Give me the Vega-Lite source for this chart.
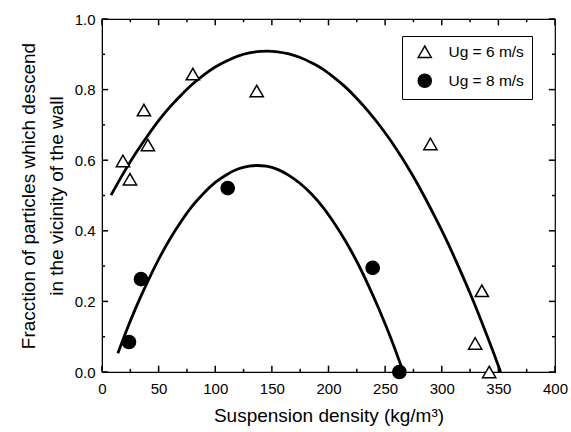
{
  "$schema": "https://vega.github.io/schema/vega-lite/v6.json",
  "width": 453,
  "height": 353,
  "autosize": {"type": "none"},
  "padding": {"left": 102, "top": 19, "right": 16, "bottom": 60},
  "background": "white",
  "config": {
    "font": "Liberation Sans",
    "view": {"stroke": "black", "strokeWidth": 1.2},
    "axis": {
      "grid": false,
      "domainColor": "black",
      "tickColor": "black",
      "labelColor": "black",
      "labelFont": "Liberation Sans",
      "labelFontSize": 15,
      "titleFont": "Liberation Sans",
      "titleFontSize": 19,
      "titleFontWeight": "normal",
      "titleColor": "black"
    }
  },
  "datasets": {
    "curves": [
      {"series": "Ug = 6 m/s", "x": 8, "y": 0.501},
      {"series": "Ug = 6 m/s", "x": 20, "y": 0.569},
      {"series": "Ug = 6 m/s", "x": 30, "y": 0.621},
      {"series": "Ug = 6 m/s", "x": 40, "y": 0.668},
      {"series": "Ug = 6 m/s", "x": 50, "y": 0.712},
      {"series": "Ug = 6 m/s", "x": 60, "y": 0.751},
      {"series": "Ug = 6 m/s", "x": 70, "y": 0.785},
      {"series": "Ug = 6 m/s", "x": 80, "y": 0.816},
      {"series": "Ug = 6 m/s", "x": 90, "y": 0.842},
      {"series": "Ug = 6 m/s", "x": 100, "y": 0.864},
      {"series": "Ug = 6 m/s", "x": 110, "y": 0.881},
      {"series": "Ug = 6 m/s", "x": 120, "y": 0.895},
      {"series": "Ug = 6 m/s", "x": 130, "y": 0.904},
      {"series": "Ug = 6 m/s", "x": 140, "y": 0.908},
      {"series": "Ug = 6 m/s", "x": 146, "y": 0.909},
      {"series": "Ug = 6 m/s", "x": 155, "y": 0.907},
      {"series": "Ug = 6 m/s", "x": 165, "y": 0.901},
      {"series": "Ug = 6 m/s", "x": 175, "y": 0.891},
      {"series": "Ug = 6 m/s", "x": 185, "y": 0.876},
      {"series": "Ug = 6 m/s", "x": 195, "y": 0.858},
      {"series": "Ug = 6 m/s", "x": 205, "y": 0.834},
      {"series": "Ug = 6 m/s", "x": 215, "y": 0.807},
      {"series": "Ug = 6 m/s", "x": 225, "y": 0.775},
      {"series": "Ug = 6 m/s", "x": 235, "y": 0.739},
      {"series": "Ug = 6 m/s", "x": 245, "y": 0.699},
      {"series": "Ug = 6 m/s", "x": 255, "y": 0.655},
      {"series": "Ug = 6 m/s", "x": 265, "y": 0.606},
      {"series": "Ug = 6 m/s", "x": 275, "y": 0.553},
      {"series": "Ug = 6 m/s", "x": 285, "y": 0.495},
      {"series": "Ug = 6 m/s", "x": 295, "y": 0.433},
      {"series": "Ug = 6 m/s", "x": 305, "y": 0.368},
      {"series": "Ug = 6 m/s", "x": 315, "y": 0.297},
      {"series": "Ug = 6 m/s", "x": 325, "y": 0.223},
      {"series": "Ug = 6 m/s", "x": 335, "y": 0.144},
      {"series": "Ug = 6 m/s", "x": 345, "y": 0.061},
      {"series": "Ug = 6 m/s", "x": 352, "y": 0.0},
      {"series": "Ug = 8 m/s", "x": 14, "y": 0.053},
      {"series": "Ug = 8 m/s", "x": 20, "y": 0.104},
      {"series": "Ug = 8 m/s", "x": 30, "y": 0.183},
      {"series": "Ug = 8 m/s", "x": 40, "y": 0.254},
      {"series": "Ug = 8 m/s", "x": 50, "y": 0.319},
      {"series": "Ug = 8 m/s", "x": 60, "y": 0.377},
      {"series": "Ug = 8 m/s", "x": 70, "y": 0.427},
      {"series": "Ug = 8 m/s", "x": 80, "y": 0.471},
      {"series": "Ug = 8 m/s", "x": 90, "y": 0.507},
      {"series": "Ug = 8 m/s", "x": 100, "y": 0.537},
      {"series": "Ug = 8 m/s", "x": 110, "y": 0.559},
      {"series": "Ug = 8 m/s", "x": 120, "y": 0.575},
      {"series": "Ug = 8 m/s", "x": 130, "y": 0.583},
      {"series": "Ug = 8 m/s", "x": 137, "y": 0.585},
      {"series": "Ug = 8 m/s", "x": 145, "y": 0.583},
      {"series": "Ug = 8 m/s", "x": 155, "y": 0.574},
      {"series": "Ug = 8 m/s", "x": 165, "y": 0.557},
      {"series": "Ug = 8 m/s", "x": 175, "y": 0.534},
      {"series": "Ug = 8 m/s", "x": 185, "y": 0.504},
      {"series": "Ug = 8 m/s", "x": 195, "y": 0.467},
      {"series": "Ug = 8 m/s", "x": 205, "y": 0.422},
      {"series": "Ug = 8 m/s", "x": 215, "y": 0.371},
      {"series": "Ug = 8 m/s", "x": 225, "y": 0.313},
      {"series": "Ug = 8 m/s", "x": 235, "y": 0.247},
      {"series": "Ug = 8 m/s", "x": 245, "y": 0.175},
      {"series": "Ug = 8 m/s", "x": 255, "y": 0.096},
      {"series": "Ug = 8 m/s", "x": 266, "y": 0.0}
    ],
    "points": [
      {"series": "Ug = 6 m/s", "x": 18.5, "y": 0.598},
      {"series": "Ug = 6 m/s", "x": 24.7, "y": 0.546},
      {"series": "Ug = 6 m/s", "x": 37, "y": 0.742},
      {"series": "Ug = 6 m/s", "x": 40.5, "y": 0.643},
      {"series": "Ug = 6 m/s", "x": 80.2, "y": 0.844},
      {"series": "Ug = 6 m/s", "x": 136.6, "y": 0.796},
      {"series": "Ug = 6 m/s", "x": 290, "y": 0.646},
      {"series": "Ug = 6 m/s", "x": 335.4, "y": 0.23},
      {"series": "Ug = 6 m/s", "x": 329.5, "y": 0.081},
      {"series": "Ug = 6 m/s", "x": 341.9, "y": 0.0},
      {"series": "Ug = 8 m/s", "x": 23.8, "y": 0.085},
      {"series": "Ug = 8 m/s", "x": 34.4, "y": 0.263},
      {"series": "Ug = 8 m/s", "x": 111, "y": 0.521},
      {"series": "Ug = 8 m/s", "x": 239, "y": 0.295},
      {"series": "Ug = 8 m/s", "x": 262.6, "y": 0.0}
    ],
    "xticks": [
      {"v": 0, "kind": "major"}, {"v": 25, "kind": "minor"}, {"v": 50, "kind": "major"},
      {"v": 75, "kind": "minor"}, {"v": 100, "kind": "major"}, {"v": 125, "kind": "minor"},
      {"v": 150, "kind": "major"}, {"v": 175, "kind": "minor"}, {"v": 200, "kind": "major"},
      {"v": 225, "kind": "minor"}, {"v": 250, "kind": "major"}, {"v": 275, "kind": "minor"},
      {"v": 300, "kind": "major"}, {"v": 325, "kind": "minor"}, {"v": 350, "kind": "major"},
      {"v": 375, "kind": "minor"}, {"v": 400, "kind": "major"}
    ],
    "yticks": [
      {"v": 0.0, "kind": "major"}, {"v": 0.1, "kind": "minor"}, {"v": 0.2, "kind": "major"},
      {"v": 0.3, "kind": "minor"}, {"v": 0.4, "kind": "major"}, {"v": 0.5, "kind": "minor"},
      {"v": 0.6, "kind": "major"}, {"v": 0.7, "kind": "minor"}, {"v": 0.8, "kind": "major"},
      {"v": 0.9, "kind": "minor"}, {"v": 1.0, "kind": "major"}
    ]
  },
  "layer": [
    {
      "data": {"name": "curves"},
      "mark": {"type": "line", "color": "black", "strokeWidth": 2.8, "interpolate": "monotone", "clip": true},
      "encoding": {
        "x": {
          "field": "x", "type": "quantitative",
          "scale": {"domain": [0, 400], "nice": false, "zero": false},
          "axis": {
            "orient": "bottom",
            "title": "Suspension density (kg/m³)",
            "titlePadding": 10,
            "values": [0, 50, 100, 150, 200, 250, 300, 350, 400],
            "ticks": false,
            "tickSize": 0,
            "labelPadding": 9,
            "labelFlush": false
          }
        },
        "y": {
          "field": "y", "type": "quantitative",
          "scale": {"domain": [0, 1], "nice": false, "zero": false},
          "axis": {
            "orient": "left",
            "title": ["Fracction of particles which descend", "in the vicinity of the wall"],
            "titleLineHeight": 28,
            "titlePadding": 8,
            "values": [0, 0.2, 0.4, 0.6, 0.8, 1.0],
            "format": ".1f",
            "ticks": false,
            "tickSize": 0,
            "labelPadding": 7,
            "labelFlush": false
          }
        },
        "detail": {"field": "series"}
      }
    },
    {
      "data": {"name": "xticks"},
      "transform": [{"filter": "datum.kind === 'major'"}],
      "mark": {"type": "rule", "color": "black", "strokeWidth": 1.5, "opacity": 1},
      "encoding": {
        "x": {"field": "v", "type": "quantitative"},
        "y": {"datum": 0, "type": "quantitative"},
        "y2": {"datum": 0.018}
      }
    },
    {
      "data": {"name": "xticks"},
      "transform": [{"filter": "datum.kind === 'major'"}],
      "mark": {"type": "rule", "color": "black", "strokeWidth": 1.5, "opacity": 1},
      "encoding": {
        "x": {"field": "v", "type": "quantitative"},
        "y": {"datum": 1, "type": "quantitative"},
        "y2": {"datum": 0.982}
      }
    },
    {
      "data": {"name": "xticks"},
      "transform": [{"filter": "datum.kind === 'minor'"}],
      "mark": {"type": "rule", "color": "black", "strokeWidth": 1.5, "opacity": 1},
      "encoding": {
        "x": {"field": "v", "type": "quantitative"},
        "y": {"datum": 0, "type": "quantitative"},
        "y2": {"datum": 0.009}
      }
    },
    {
      "data": {"name": "xticks"},
      "transform": [{"filter": "datum.kind === 'minor'"}],
      "mark": {"type": "rule", "color": "black", "strokeWidth": 1.5, "opacity": 1},
      "encoding": {
        "x": {"field": "v", "type": "quantitative"},
        "y": {"datum": 1, "type": "quantitative"},
        "y2": {"datum": 0.991}
      }
    },
    {
      "data": {"name": "yticks"},
      "transform": [{"filter": "datum.kind === 'major'"}],
      "mark": {"type": "rule", "color": "black", "strokeWidth": 1.5, "opacity": 1},
      "encoding": {
        "y": {"field": "v", "type": "quantitative"},
        "x": {"datum": 0, "type": "quantitative"},
        "x2": {"datum": 5.4}
      }
    },
    {
      "data": {"name": "yticks"},
      "transform": [{"filter": "datum.kind === 'major'"}],
      "mark": {"type": "rule", "color": "black", "strokeWidth": 1.5, "opacity": 1},
      "encoding": {
        "y": {"field": "v", "type": "quantitative"},
        "x": {"datum": 400, "type": "quantitative"},
        "x2": {"datum": 394.6}
      }
    },
    {
      "data": {"name": "yticks"},
      "transform": [{"filter": "datum.kind === 'minor'"}],
      "mark": {"type": "rule", "color": "black", "strokeWidth": 1.5, "opacity": 1},
      "encoding": {
        "y": {"field": "v", "type": "quantitative"},
        "x": {"datum": 0, "type": "quantitative"},
        "x2": {"datum": 2.7}
      }
    },
    {
      "data": {"name": "yticks"},
      "transform": [{"filter": "datum.kind === 'minor'"}],
      "mark": {"type": "rule", "color": "black", "strokeWidth": 1.5, "opacity": 1},
      "encoding": {
        "y": {"field": "v", "type": "quantitative"},
        "x": {"datum": 400, "type": "quantitative"},
        "x2": {"datum": 397.3}
      }
    },
    {
      "data": {"name": "points"},
      "mark": {"type": "point", "filled": true, "stroke": "black", "strokeWidth": 1.5, "opacity": 1, "size": 175},
      "encoding": {
        "x": {"field": "x", "type": "quantitative"},
        "y": {"field": "y", "type": "quantitative"},
        "shape": {
          "field": "series", "type": "nominal",
          "scale": {"domain": ["Ug = 6 m/s", "Ug = 8 m/s"], "range": ["triangle-up", "circle"]},
          "legend": {
            "title": null,
            "orient": "none",
            "legendX": 300,
            "legendY": 17,
            "strokeColor": "black",
            "fillColor": "white",
            "padding": 8,
            "symbolOffset": 7,
            "labelFontSize": 15.5,
            "labelFont": "Liberation Sans",
            "labelColor": "black",
            "labelOffset": 16,
            "rowPadding": 10,
            "symbolSize": 170,
            "encode": {"symbols": {"update": {"stroke": {"value": "black"}, "strokeWidth": {"value": 1.5}}}}
          }
        },
        "fill": {
          "field": "series", "type": "nominal",
          "scale": {"domain": ["Ug = 6 m/s", "Ug = 8 m/s"], "range": ["white", "black"]},
          "legend": {
            "title": null,
            "orient": "none",
            "legendX": 300,
            "legendY": 17,
            "strokeColor": "black",
            "fillColor": "white",
            "padding": 8,
            "symbolOffset": 7,
            "labelFontSize": 15.5,
            "labelFont": "Liberation Sans",
            "labelColor": "black",
            "labelOffset": 16,
            "rowPadding": 10,
            "symbolSize": 170,
            "encode": {"symbols": {"update": {"stroke": {"value": "black"}, "strokeWidth": {"value": 1.5}}}}
          }
        }
      }
    }
  ]
}
